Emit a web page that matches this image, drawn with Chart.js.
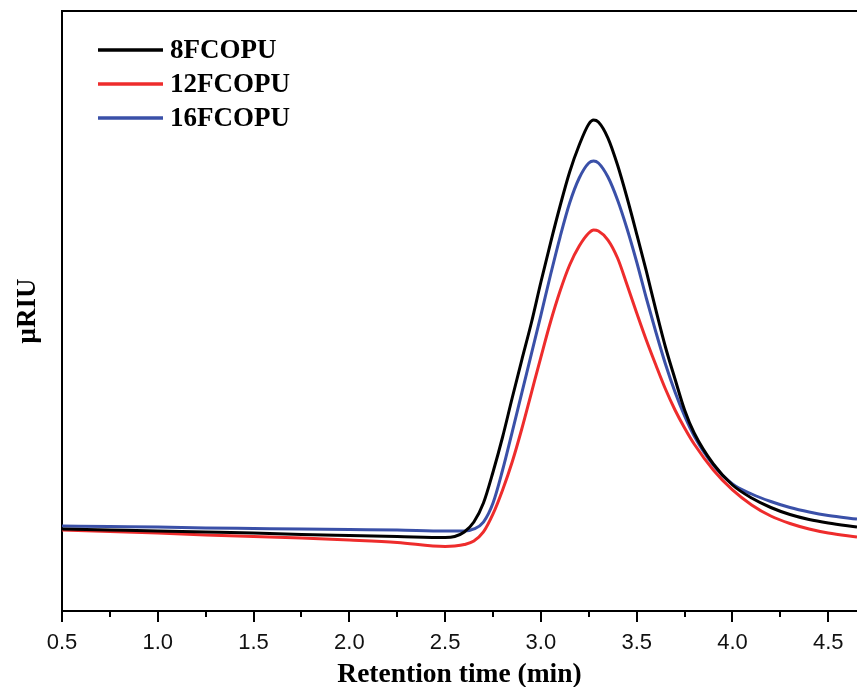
<!DOCTYPE html>
<html>
<head>
<meta charset="utf-8">
<script src="https://cdn.jsdelivr.net/npm/chart.js@4.4.0/dist/chart.umd.min.js"></script>
<style>
  body { margin: 0; background: #fff; }
  #wrap { width: 857px; height: 687px; }
</style>
</head>
<body>
<div id="wrap"><canvas id="myChart" width="857" height="687"></canvas></div>
<script>

const times = [0.5, 0.75, 1.0, 1.25, 1.5, 1.75, 2.0, 2.25, 2.5, 2.55, 2.6, 2.65, 2.7, 2.75, 2.8, 2.85, 2.9, 2.95,
    3.0, 3.05, 3.1, 3.15, 3.2, 3.25, 3.275, 3.3, 3.35, 3.4, 3.45, 3.5, 3.55, 3.6, 3.65, 3.7, 3.75, 3.8,
    3.9, 4.0, 4.1, 4.2, 4.3, 4.4, 4.5, 4.65];

const pu8 = [13.67, 13.5, 13.33, 13.17, 13.0, 12.75, 12.58, 12.42, 12.25, 12.42, 13.17, 14.83, 18.0, 23.17, 29.0, 35.5, 41.83, 48.0,
    54.83, 61.33, 67.5, 73.17, 77.67, 81.17, 81.83, 81.5, 78.83, 74.33, 68.83, 62.83, 56.67, 50.17, 44.0, 38.67, 33.5, 29.67,
    24.5, 21.0, 18.83, 17.25, 16.08, 15.25, 14.67, 14.0];

const pu12 = [13.5, 13.25, 13.0, 12.67, 12.42, 12.17, 11.83, 11.42, 10.75, 10.83, 11.08, 11.67, 13.17, 16.17, 20.17, 24.83, 30.33, 36.33,
    42.33, 48.17, 53.33, 57.67, 60.83, 63.0, 63.5, 63.33, 61.83, 58.83, 54.33, 49.67, 45.17, 41.0, 37.0, 33.5, 30.5, 27.83,
    23.5, 20.17, 17.67, 15.83, 14.58, 13.67, 13.0, 12.33];

const pu16 = [14.17, 14.08, 14.0, 13.83, 13.75, 13.67, 13.58, 13.5, 13.33, 13.33, 13.33, 13.67, 14.83, 18.0, 23.5, 29.83, 36.33, 42.83,
    49.33, 56.0, 62.33, 68.0, 72.17, 74.67, 75.0, 74.67, 72.33, 68.5, 63.67, 58.17, 52.17, 46.5, 41.17, 36.5, 32.5, 29.17,
    24.33, 21.17, 19.5, 18.25, 17.25, 16.5, 15.92, 15.33];

const names = ['8FCOPU', '12FCOPU', '16FCOPU'];
const colors = ['#000000', '#ee2c2c', '#3a50a8'];

const majorTicks = [0.5, 1.0, 1.5, 2.0, 2.5, 3.0, 3.5, 4.0, 4.5];
const minorTicks = [0.75, 1.25, 1.75, 2.25, 2.75, 3.25, 3.75, 4.25];

function points(values) {
    return times.map((t, i) => ({ x: t, y: values[i] }));
}

// Marco, marcas del eje y leyenda
const frame = {
    id: 'frame',
    afterDraw(chart) {
        const ctx = chart.ctx;
        const a = chart.chartArea;
        const x = chart.scales.x;
        ctx.save();
        ctx.strokeStyle = '#000';
        ctx.lineWidth = 2;
        ctx.beginPath();
        ctx.moveTo(a.left - 1, a.top);
        ctx.lineTo(chart.width, a.top);
        ctx.stroke();
        x.ticks.forEach(t => {
            const px = Math.round(x.getPixelForValue(t.value));
            const len = majorTicks.includes(t.value) ? 11 : 6;
            ctx.beginPath();
            ctx.moveTo(px, a.bottom);
            ctx.lineTo(px, a.bottom + len);
            ctx.stroke();
        });
        ctx.font = 'bold 27px "Liberation Serif", "Times New Roman", serif';
        ctx.textBaseline = 'middle';
        ctx.fillStyle = '#000';
        chart.data.datasets.forEach((ds, i) => {
            const y = a.top + 39 + i * 34;
            ctx.strokeStyle = ds.borderColor;
            ctx.lineWidth = 3.5;
            ctx.beginPath();
            ctx.moveTo(a.left + 36, y);
            ctx.lineTo(a.left + 101, y);
            ctx.stroke();
            ctx.fillText(ds.label, a.left + 108, y + 1);
        });
        ctx.restore();
    }
};

const data = {
    datasets: [pu8, pu12, pu16].map((vals, i) => ({
        label: names[i],
        data: points(vals),
        borderColor: colors[i],
        borderWidth: 3,
        pointRadius: 0,
        cubicInterpolationMode: 'monotone',
        fill: false
    }))
};

const config = {
    type: 'line',
    data,
    options: {
        responsive: false,
        animation: false,
        devicePixelRatio: 1,
        layout: { padding: { top: 11, right: 0, left: 0, bottom: 0 } },
        plugins: {
            legend: { display: false },
            tooltip: { enabled: false }
        },
        scales: {
            x: {
                type: 'linear',
                min: 0.5,
                max: 4.65,
                afterBuildTicks(scale) {
                    scale.ticks = majorTicks.concat(minorTicks).sort((p, q) => p - q).map(v => ({ value: v }));
                },
                afterFit(scale) {
                    scale.height = 76;
                    scale.paddingLeft = 0;
                    scale.paddingRight = 0;
                },
                grid: { display: true, drawOnChartArea: false, drawTicks: false },
                border: { display: true, color: '#000', width: 2 },
                ticks: {
                    autoSkip: false,
                    maxRotation: 0,
                    padding: 19,
                    color: '#111',
                    font: { family: '"Liberation Sans", Arial, sans-serif', size: 22 },
                    callback: v => majorTicks.includes(v) ? v.toFixed(1) : ''
                },
                title: {
                    display: true,
                    text: 'Retention time (min)',
                    color: '#000',
                    padding: { top: 0, bottom: 0 },
                    font: { family: '"Liberation Serif", "Times New Roman", serif', size: 27.5, weight: 'bold', lineHeight: 0.9 }
                }
            },
            y: {
                min: 0,
                max: 100,
                afterFit(scale) { scale.width = 62; },
                grid: { display: false },
                border: { display: true, color: '#000', width: 2 },
                ticks: { display: false },
                title: {
                    display: true,
                    text: 'μRIU',
                    color: '#000',
                    padding: { top: 12, bottom: 0 },
                    font: { family: '"Liberation Serif", "Times New Roman", serif', size: 27, weight: 'bold' }
                }
            }
        }
    },
    plugins: [frame]
};

var myChart = new Chart(
    document.getElementById('myChart'),
    config
);
</script>
</body>
</html>
